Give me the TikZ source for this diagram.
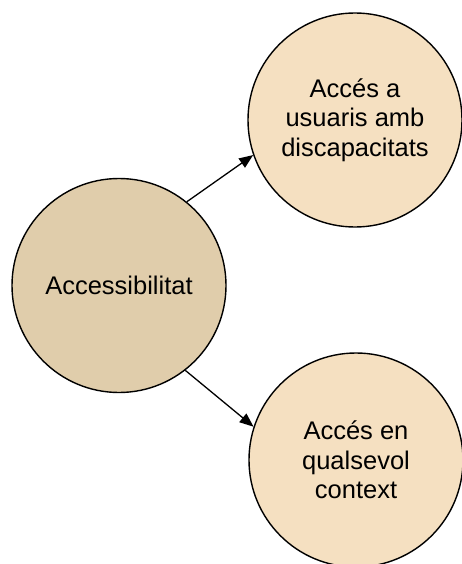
\documentclass[tikz,border=0pt]{standalone}
\usepackage{fontspec}
\setmainfont{Liberation Sans}
\usepackage{xcolor}
\usepackage{tikz}
\usetikzlibrary{arrows.meta, positioning}
\definecolor{centertan}{HTML}{E0CDAB}
\definecolor{leafwheat}{HTML}{F5E0C1}

\begin{document}
\begin{tikzpicture}[
  x=1pt, y=-1pt,
  bubble/.style={circle, draw=black, line width=1.4pt, minimum size=214pt, inner sep=0pt, align=center, font=\fontsize{25.5}{29.5}\selectfont},
  root/.style={bubble, fill=centertan},
  leaf/.style={bubble, fill=leafwheat},
  link/.style={-{Triangle[length=14pt, width=11pt]}, line width=1.3pt}
]
  \useasboundingbox (0,0) rectangle (462,564);
  \node[root] (access) at (119,285.5) {Accessibilitat};
  \node[leaf] (users) at (355,120) {Accés a\\usuaris amb\\discapacitats};
  \node[leaf] (context) at (356,460) {Accés en\\qualsevol\\context};

  \draw[link] (access.51) -- (users.199);
  \draw[link] (access.-52) -- (context.162);
\end{tikzpicture}
\end{document}
